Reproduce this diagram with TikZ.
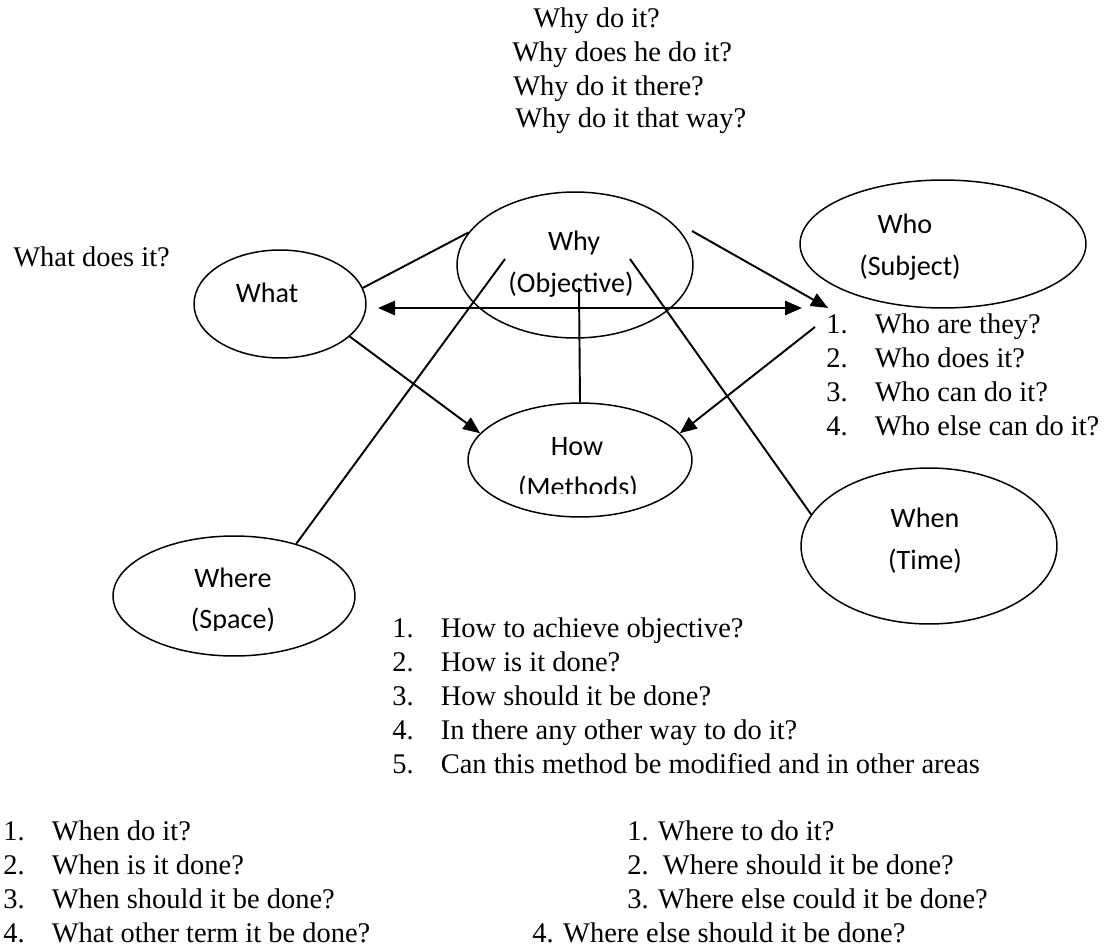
\documentclass[tikz,border=0pt]{standalone}
\usepackage{fontspec}
\setmainfont{Liberation Serif}
\newfontfamily\calibri{Carlito}
\usetikzlibrary{arrows.meta,shapes.geometric}
\newcommand\num[1]{\makebox[0.97cm][l]{#1}}

\begin{document}
\begin{tikzpicture}[x=0.02cm,y=-0.02cm,>={Triangle[length=3.4mm,width=2.8mm]},
   oval/.style 2 args={ellipse,draw,line width=0.85pt,inner sep=0pt,minimum width=#1*0.04cm,minimum height=#2*0.04cm},
   txt/.style={anchor=base west,inner sep=0pt,font=\fontsize{16.2}{19}\selectfont},
   lbl/.style={anchor=base,inner sep=0pt,font=\calibri\fontsize{16}{19}\selectfont},
   con/.style={line width=1.1pt}]
  \useasboundingbox (0,0) rectangle (1115,946);
  % the six ovals
  \node[oval={118}{73}] (why) at (575,265) {};
  \node[oval={86}{54}] (what) at (280,304) {};
  \node[oval={143}{64}] (who) at (943,244) {};
  \node[oval={112}{57}] (how) at (580,460) {};
  \node[oval={128}{78}] (when) at (929,546) {};
  \node[oval={121}{60}] (where) at (234,596) {};
  \node[lbl] (whyA) at (574,250) {Why};
  \node[lbl] (whyB) at (571,292) {(Objective)};
  \node[lbl] (whatA) at (267,302) {What};
  \node[lbl] (whoA) at (905,233) {Who};
  \node[lbl] (whoB) at (910,275) {(Subject)};
  \node[lbl] (howA) at (577,455) {How};
  \begin{scope}
    \clip (400,380) rectangle (760,493);
    \node[lbl] (howB) at (578,496) {(Methods)};
  \end{scope}
  \node[lbl] (whereA) at (233,587) {Where};
  \begin{scope}
    \clip (100,500) rectangle (400,630);
    \node[lbl] (whereB) at (233,628) {(Space)};
  \end{scope}
  \node[lbl] (whenA) at (925,527) {When};
  \node[lbl] (whenB) at (925,569) {(Time)};
  % free ends of the connectors
  \coordinate (whyW) at (505,259);
  \coordinate (whyE) at (630,259);
  \coordinate (whyS) at (579,288);
  \coordinate (whyNE) at (692,231);
  \coordinate (whatgap) at (378,308);
  \coordinate (whogap) at (802,308);
  \coordinate (whotip) at (828,308);
  \coordinate (whofoot) at (815,327);
  \draw[con] (what.11) -- (why.163);
  \draw[con,->] (what.-25) -- (how.165);
  \draw[con,line width=1.6pt,<->] (whatgap) -- (whogap);
  \draw[con,->] (whyNE) -- (whotip);
  \draw[con,->] (whofoot) -- (how.15);
  \draw[con] (whyW) -- (where.40);
  \draw[con] (whyE) -- (when.165);
  \draw[con] (whyS) -- (how.north);
  % questions
  \node[txt] (q1) at (533,28) {Why do it?};
  \node[txt] (q2) at (512,62) {Why does he do it?};
  \node[txt] (q3) at (513,95) {Why do it there?};
  \node[txt] (q4) at (515,128) {Why do it that way?};
  \node[txt] (whatq) at (13,266) {What does it?};
  \node[txt] (who1) at (826,333) {\num{1.}Who are they?};
  \node[txt] (who2) at (826,367) {\num{2.}Who does it?};
  \node[txt] (who3) at (826,401) {\num{3.}Who can do it?};
  \node[txt] (who4) at (826,435) {\num{4.}Who else can do it?};
  \node[txt] (how1) at (392,637) {\num{1.}How to achieve objective?};
  \node[txt] (how2) at (392,671) {\num{2.}How is it done?};
  \node[txt] (how3) at (392,705) {\num{3.}How should it be done?};
  \node[txt] (how4) at (392,739) {\num{4.}In there any other way to do it?};
  \node[txt] (how5) at (392,773) {\num{5.}Can this method be modified and in other areas};
  \node[txt] (when1) at (3,840) {\num{1.}When do it?};
  \node[txt] (when2) at (3,874) {\num{2.}When is it done?};
  \node[txt] (when3) at (3,908) {\num{3.}When should it be done?};
  \node[txt] (when4) at (3,942) {\num{4.}What other term it be done?};
  \node[txt] (where1) at (627,840) {1. Where to do it?};
  \node[txt] (where2) at (627,874) {2.\ \ Where should it be done?};
  \node[txt] (where3) at (627,908) {3. Where else could it be done?};
  \node[txt] (where4) at (532,942) {4. Where else should it be done?};
\end{tikzpicture}
\end{document}
